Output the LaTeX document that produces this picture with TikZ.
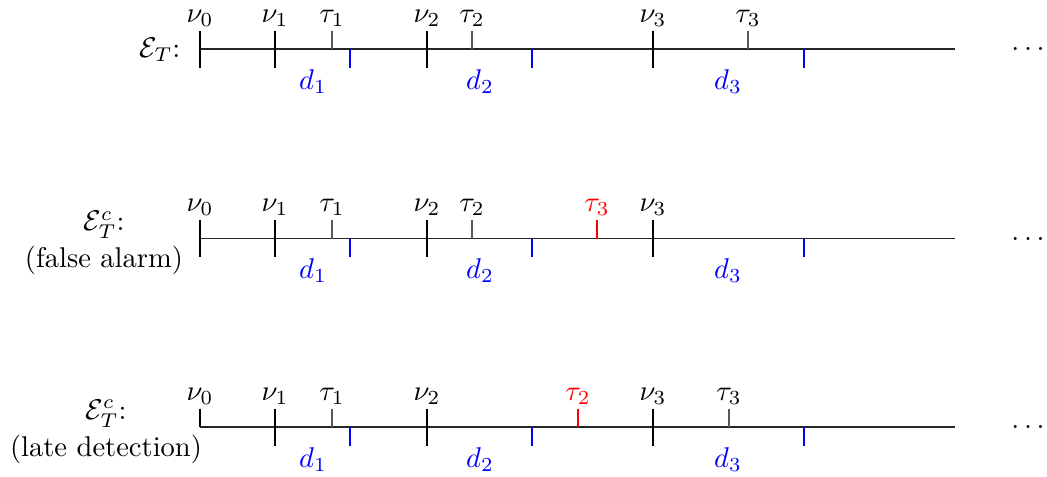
\documentclass[tikz,border=0pt]{standalone}
\begin{document}
\begin{tikzpicture}[x=0.3503pt, y=-0.3503pt,
  axisline/.style={draw=black!85, line width=0.4pt},
  nutick/.style={draw=black, line width=0.4pt},
  tautick/.style={draw=black!65, line width=0.4pt},
  dtick/.style={draw=blue, line width=0.4pt},
  ftick/.style={draw=red, line width=0.4pt},
  toplab/.style={anchor=base, inner sep=0pt},
  redlab/.style={anchor=base, inner sep=0pt, text=red},
  dlab/.style={anchor=base, inner sep=0pt, text=blue},
  dotslab/.style={anchor=base, inner sep=0pt},
  rowlab/.style={align=center, inner sep=0pt}]
\useasboundingbox (0,0) rectangle (1047,476);

% ---------------- Row 1 ----------------
\begin{scope}[shift={(0,49)}]
  \node[anchor=base east, inner sep=0pt] (l1) at (181,8) {$\mathcal{E}_T$:};
  \coordinate (a1s) at (200,0);
  \coordinate (a1e) at (955,0);
  \draw[axisline] (a1s) -- (a1e);
  \draw[nutick] (200,-18.5) -- (200,18.5);
  \draw[nutick] (275,-18.5) -- (275,18.5);
  \draw[nutick] (427,-18.5) -- (427,18.5);
  \draw[nutick] (653,-18.5) -- (653,18.5);
  \draw[tautick] (332,-18.5) -- (332,0);
  \draw[tautick] (472,-18.5) -- (472,0);
  \draw[tautick] (748,-18.5) -- (748,0);
  \draw[dtick] (350,0) -- (350,18.5);
  \draw[dtick] (532,0) -- (532,18.5);
  \draw[dtick] (804,0) -- (804,18.5);
  \node[toplab] (r1n0) at (200,-27) {$\nu_0$};
  \node[toplab] (r1n1) at (275,-27) {$\nu_1$};
  \node[toplab] (r1t1) at (332,-27) {$\tau_1$};
  \node[toplab] (r1n2) at (427,-27) {$\nu_2$};
  \node[toplab] (r1t2) at (472,-27) {$\tau_2$};
  \node[toplab] (r1n3) at (653,-27) {$\nu_3$};
  \node[toplab] (r1t3) at (748,-27) {$\tau_3$};
  \node[dlab] (r1d1) at (313,40) {$d_1$};
  \node[dlab] (r1d2) at (480,40) {$d_2$};
  \node[dlab] (r1d3) at (728,40) {$d_3$};
  \node[dotslab] (r1dots) at (1028,1.5) {$\ldots$};
\end{scope}

% ---------------- Row 2 ----------------
\begin{scope}[shift={(0,238.5)}]
  \node[rowlab] (l2) at (104,4.5) {$\mathcal{E}_T^c$:\\[1pt](false alarm)};
  \coordinate (a2s) at (200,0);
  \coordinate (a2e) at (955,0);
  \draw[axisline] (a2s) -- (a2e);
  \draw[nutick] (200,-18.5) -- (200,18.5);
  \draw[nutick] (275,-18.5) -- (275,18.5);
  \draw[nutick] (427,-18.5) -- (427,18.5);
  \draw[nutick] (653,-18.5) -- (653,18.5);
  \draw[tautick] (332,-18.5) -- (332,0);
  \draw[tautick] (472,-18.5) -- (472,0);
  \draw[ftick] (597,-18.5) -- (597,0);
  \draw[dtick] (350,0) -- (350,18.5);
  \draw[dtick] (532,0) -- (532,18.5);
  \draw[dtick] (804,0) -- (804,18.5);
  \node[toplab] (r2n0) at (200,-27) {$\nu_0$};
  \node[toplab] (r2n1) at (275,-27) {$\nu_1$};
  \node[toplab] (r2t1) at (332,-27) {$\tau_1$};
  \node[toplab] (r2n2) at (427,-27) {$\nu_2$};
  \node[toplab] (r2t2) at (472,-27) {$\tau_2$};
  \node[redlab] (r2t3) at (597,-27) {$\tau_3$};
  \node[toplab] (r2n3) at (653,-27) {$\nu_3$};
  \node[dlab] (r2d1) at (313,40) {$d_1$};
  \node[dlab] (r2d2) at (480,40) {$d_2$};
  \node[dlab] (r2d3) at (728,40) {$d_3$};
  \node[dotslab] (r2dots) at (1028,1.5) {$\ldots$};
\end{scope}

% ---------------- Row 3 ----------------
\begin{scope}[shift={(0,427)}]
  \node[rowlab] (l3) at (106,4.5) {$\mathcal{E}_T^c$:\\[1pt](late detection)};
  \coordinate (a3s) at (200,0);
  \coordinate (a3e) at (955,0);
  \draw[axisline] (a3s) -- (a3e);
  \draw[nutick] (200,-18.5) -- (200,0);
  \draw[nutick] (275,-18.5) -- (275,18.5);
  \draw[nutick] (427,-18.5) -- (427,18.5);
  \draw[nutick] (653,-18.5) -- (653,18.5);
  \draw[tautick] (332,-18.5) -- (332,0);
  \draw[ftick] (578,-18.5) -- (578,0);
  \draw[tautick] (729,-18.5) -- (729,0);
  \draw[dtick] (350,0) -- (350,18.5);
  \draw[dtick] (532,0) -- (532,18.5);
  \draw[dtick] (804,0) -- (804,18.5);
  \node[toplab] (r3n0) at (200,-27) {$\nu_0$};
  \node[toplab] (r3n1) at (275,-27) {$\nu_1$};
  \node[toplab] (r3t1) at (332,-27) {$\tau_1$};
  \node[toplab] (r3n2) at (427,-27) {$\nu_2$};
  \node[redlab] (r3t2) at (578,-27) {$\tau_2$};
  \node[toplab] (r3n3) at (653,-27) {$\nu_3$};
  \node[toplab] (r3t3) at (729,-27) {$\tau_3$};
  \node[dlab] (r3d1) at (313,40) {$d_1$};
  \node[dlab] (r3d2) at (480,40) {$d_2$};
  \node[dlab] (r3d3) at (728,40) {$d_3$};
  \node[dotslab] (r3dots) at (1028,1.5) {$\ldots$};
\end{scope}
\end{tikzpicture}
\end{document}
